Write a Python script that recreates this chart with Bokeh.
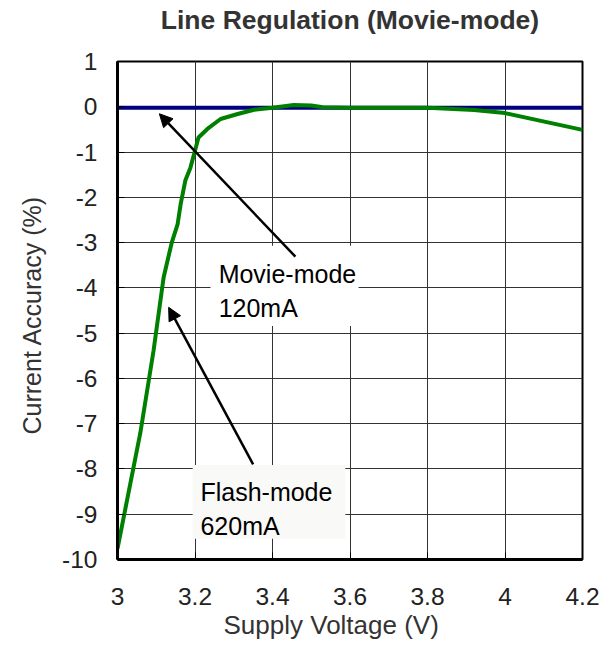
from bokeh.plotting import figure
from bokeh.models import Range1d, FixedTicker, Arrow, NormalHead, BoxAnnotation, Label, Title
from bokeh.embed import file_html
from bokeh.resources import INLINE

# ---- data ----
flash_v = [3.0, 3.059, 3.093, 3.119, 3.14, 3.155, 3.163, 3.175, 3.188, 3.2, 3.209,
           3.232, 3.266, 3.31, 3.35, 3.4, 3.455, 3.5, 3.53, 3.6, 3.7, 3.8, 3.92, 4.0, 4.2]
flash_acc = [-9.76, -7.2, -5.39, -3.77, -3.0, -2.6, -2.15, -1.63, -1.35, -0.97, -0.68,
             -0.49, -0.27, -0.16, -0.07, -0.02, 0.04, 0.03, -0.01, -0.02, -0.02, -0.02, -0.07, -0.14, -0.51]
movie_v = [3.0, 3.4, 3.8, 4.2]
movie_acc = [-0.02, -0.02, -0.02, -0.02]
x_ticks = [3.0, 3.2, 3.4, 3.6, 3.8, 4.0, 4.2]
x_tick_labels = ["3", "3.2", "3.4", "3.6", "3.8", "4", "4.2"]
y_ticks = list(range(-10, 2))
y_tick_labels = [str(v) for v in y_ticks]
title_text = "Line Regulation (Movie-mode)"
x_label = "Supply Voltage (V)"
y_label = "Current Accuracy (%)"

FONT = "Liberation Sans"

p = figure(width=613, height=647, output_backend="svg", toolbar_location=None,
           title_location=None,
           x_range=Range1d(3.0, 4.2), y_range=Range1d(-10, 1),
           min_border_left=117, min_border_right=31, min_border_top=61, min_border_bottom=88)

# spacer (closest to frame) then the chart title
p.add_layout(Title(text=" ", text_font_size="22px", standoff=0), "above")
p.add_layout(Title(text=title_text, align="center", standoff=0,
                   text_font=FONT, text_font_size="26.5px", text_font_style="bold",
                   text_color="#333333"), "above")

p.background_fill_color = "white"
p.border_fill_color = "white"
p.outline_line_color = "black"
p.outline_line_width = 2

p.xaxis.ticker = FixedTicker(ticks=x_ticks)
p.yaxis.ticker = FixedTicker(ticks=y_ticks)
p.xaxis.major_label_overrides = {t: l for t, l in zip(x_ticks, x_tick_labels)}
p.yaxis.major_label_overrides = {t: l for t, l in zip(y_ticks, y_tick_labels)}
for ax in (p.xaxis, p.yaxis):
    ax.major_label_text_font = FONT
    ax.major_label_text_font_size = "24.5px"
    ax.major_label_text_color = "#222222"
    ax.major_tick_in = 7
    ax.major_tick_out = 0
    ax.major_tick_line_color = "black"
    ax.minor_tick_line_color = None
    ax.axis_line_color = "black"
    ax.axis_line_width = 3
p.xaxis.major_label_standoff = 28
p.yaxis.major_label_standoff = 20

# axis titles as Title annotations so they can be shifted like the reference
p.add_layout(Title(text=x_label, align="left", offset=106, standoff=0,
                   text_font=FONT, text_font_size="26px", text_font_style="normal",
                   text_color="#333333"), "below")
p.add_layout(Title(text=y_label, align="left", offset=125, standoff=27,
                   text_font=FONT, text_font_size="25px", text_font_style="normal",
                   text_color="#333333"), "left")

p.grid.grid_line_color = "#333333"
p.grid.grid_line_width = 1
p.grid.grid_line_alpha = 1

p.line(movie_v, movie_acc, line_color="#000080", line_width=4)
p.line(flash_v, flash_acc, line_color="#008000", line_width=4)

# annotation boxes
p.add_layout(BoxAnnotation(left=3.24, right=3.622, top=-3.07, bottom=-4.84,
                           fill_color="white", fill_alpha=1, line_color=None, level="annotation"))
p.add_layout(BoxAnnotation(left=3.194, right=3.588, top=-7.91, bottom=-9.54,
                           fill_color="#f9f9f7", fill_alpha=1, line_color=None, level="annotation"))

for txt, x, y in [("Movie-mode", 3.261, -3.704), ("120mA", 3.261, -4.451),
                  ("Flash-mode", 3.214, -8.52), ("620mA", 3.214, -9.27)]:
    p.add_layout(Label(x=x, y=y, text=txt, text_font=FONT, text_font_size="25px",
                       text_color="black", text_baseline="alphabetic", text_align="left"))

p.add_layout(Arrow(end=NormalHead(size=13, fill_color="black", line_color="black"),
                   x_start=3.459, y_start=-3.31, x_end=3.108, y_end=-0.155,
                   line_width=2.5, line_color="black"))
p.add_layout(Arrow(end=NormalHead(size=13, fill_color="black", line_color="black"),
                   x_start=3.350, y_start=-7.90, x_end=3.132, y_end=-4.43,
                   line_width=2.5, line_color="black"))

open("out.html", "w").write(file_html(p, INLINE))
